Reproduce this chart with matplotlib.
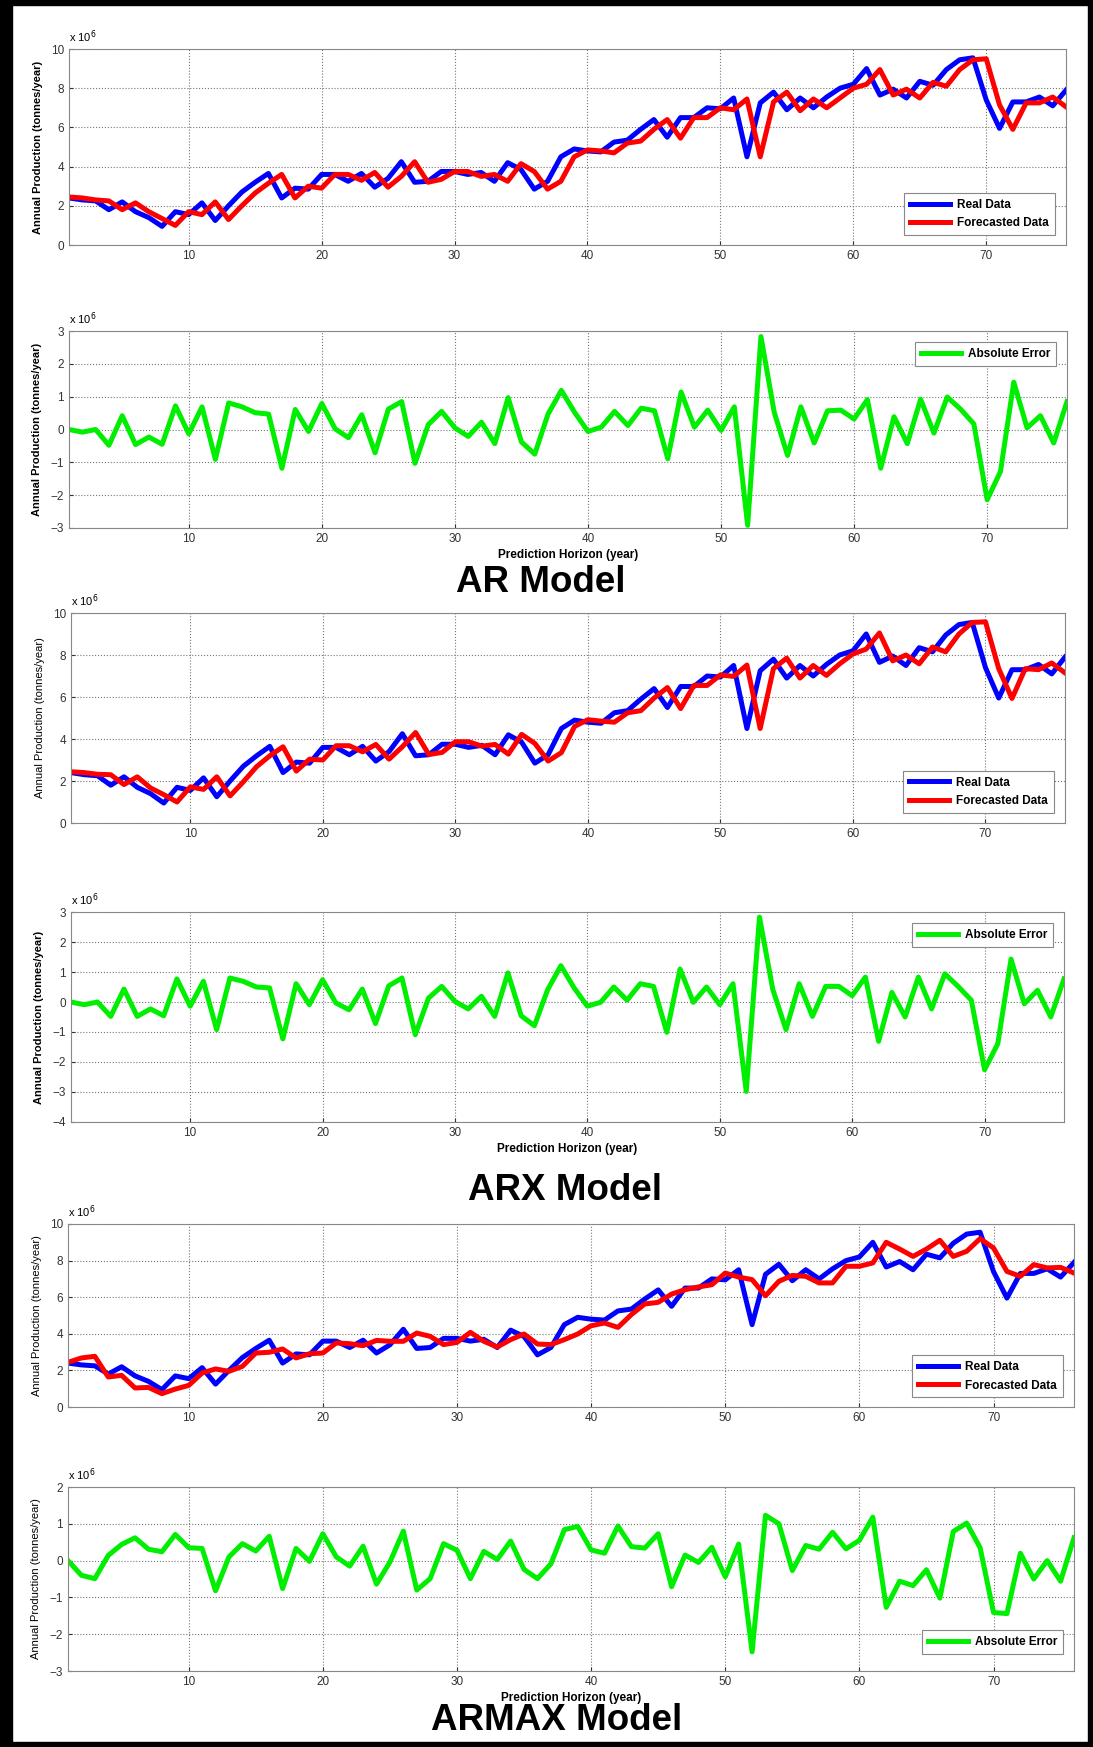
import numpy as np
import matplotlib
matplotlib.use("Agg")
import matplotlib.pyplot as plt
from matplotlib.patches import Rectangle

plt.rcParams['font.family'] = ['Liberation Sans', 'DejaVu Sans']

# horizon (year index)
years = np.arange(1, 77)

# annual production, x 10^6 tonnes/year
real = [2.4, 2.3, 2.25, 1.8, 2.2, 1.7, 1.4, 0.95, 1.7, 1.55,
        2.15, 1.25, 2.0, 2.7, 3.2, 3.65, 2.4, 2.9, 2.85, 3.6,
        3.6, 3.25, 3.65, 2.95, 3.4, 4.25, 3.2, 3.25, 3.75, 3.75,
        3.6, 3.7, 3.25, 4.2, 3.85, 2.85, 3.25, 4.5, 4.9, 4.8,
        4.75, 5.25, 5.35, 5.9, 6.4, 5.5, 6.5, 6.5, 7.0, 6.95,
        7.5, 4.5, 7.25, 7.8, 6.9, 7.5, 7.0, 7.55, 8.0, 8.2,
        9.0, 7.65, 7.95, 7.5, 8.35, 8.15, 8.95, 9.45, 9.55, 7.4,
        5.95, 7.3, 7.3, 7.55, 7.1, 7.9]

ar_fc = [2.45, 2.4, 2.3, 2.25, 1.8, 2.15, 1.7, 1.35, 1.0, 1.7,
         1.55, 2.2, 1.3, 2.0, 2.65, 3.15, 3.6, 2.4, 3.0, 2.9,
         3.6, 3.6, 3.3, 3.7, 2.95, 3.5, 4.25, 3.2, 3.35, 3.75,
         3.75, 3.5, 3.6, 3.25, 4.15, 3.75, 2.85, 3.25, 4.5, 4.85,
         4.8, 4.7, 5.2, 5.3, 5.9, 6.4, 5.45, 6.5, 6.5, 7.0,
         6.9, 7.45, 4.5, 7.3, 7.8, 6.85, 7.45, 7.0, 7.5, 8.0,
         8.2, 8.95, 7.65, 7.95, 7.5, 8.3, 8.1, 8.95, 9.45, 9.5,
         7.15, 5.9, 7.25, 7.25, 7.55, 7.05]

ar_err = [0.0, -0.08, 0.0, -0.48, 0.42, -0.46, -0.23, -0.45, 0.72, -0.13,
          0.69, -0.91, 0.81, 0.69, 0.51, 0.47, -1.18, 0.61, -0.06, 0.79,
          0.02, -0.25, 0.45, -0.71, 0.62, 0.85, -1.03, 0.15, 0.55, 0.05,
          -0.21, 0.22, -0.43, 0.97, -0.38, -0.75, 0.47, 1.19, 0.52, -0.06,
          0.07, 0.55, 0.12, 0.65, 0.57, -0.89, 1.14, 0.07, 0.59, -0.03,
          0.69, -2.92, 2.83, 0.52, -0.79, 0.69, -0.41, 0.57, 0.59, 0.32,
          0.91, -1.18, 0.39, -0.43, 0.92, -0.11, 0.99, 0.62, 0.17, -2.14,
          -1.28, 1.44, 0.05, 0.42, -0.41, 0.85]

arx_fc = [2.44, 2.4, 2.32, 2.3, 1.83, 2.2, 1.67, 1.35, 1.0, 1.72,
          1.6, 2.2, 1.29, 1.96, 2.68, 3.2, 3.63, 2.47, 3.04, 3.0,
          3.68, 3.68, 3.39, 3.74, 3.04, 3.63, 4.31, 3.26, 3.36, 3.87,
          3.87, 3.66, 3.74, 3.28, 4.22, 3.79, 2.95, 3.35, 4.6, 4.92,
          4.85, 4.8, 5.25, 5.35, 5.95, 6.45, 5.45, 6.55, 6.55, 7.05,
          6.98, 7.52, 4.5, 7.35, 7.85, 6.9, 7.5, 7.03, 7.58, 8.05,
          8.28, 9.05, 7.72, 8.0, 7.58, 8.38, 8.15, 9.0, 9.55, 9.58,
          7.35, 5.93, 7.35, 7.3, 7.62, 7.15]

arx_err = [0.0, -0.09, 0.0, -0.48, 0.43, -0.48, -0.23, -0.46, 0.77, -0.14,
           0.69, -0.92, 0.8, 0.69, 0.5, 0.47, -1.23, 0.61, -0.09, 0.74,
           -0.03, -0.26, 0.43, -0.72, 0.54, 0.8, -1.09, 0.13, 0.52, 0.02,
           -0.23, 0.19, -0.48, 0.97, -0.46, -0.79, 0.41, 1.21, 0.47, -0.14,
           -0.01, 0.5, 0.06, 0.61, 0.52, -1.01, 1.1, -0.01, 0.5, -0.09,
           0.61, -2.98, 2.83, 0.43, -0.92, 0.61, -0.48, 0.52, 0.52, 0.21,
           0.83, -1.31, 0.32, -0.5, 0.83, -0.23, 0.94, 0.52, 0.06, -2.26,
           -1.39, 1.43, -0.06, 0.39, -0.5, 0.77]

armax_fc = [2.44, 2.68, 2.77, 1.64, 1.73, 1.04, 1.07, 0.73, 0.98, 1.18,
            1.86, 2.08, 1.95, 2.22, 2.95, 2.99, 3.17, 2.68, 2.91, 2.95,
            3.5, 3.46, 3.35, 3.64, 3.59, 3.59, 4.04, 3.86, 3.41, 3.53,
            4.08, 3.59, 3.28, 3.68, 3.99, 3.44, 3.41, 3.68, 3.99, 4.44,
            4.59, 4.35, 5.05, 5.63, 5.72, 6.17, 6.41, 6.56, 6.68, 7.32,
            7.1, 6.96, 6.08, 6.87, 7.19, 7.14, 6.78, 6.78, 7.69, 7.69,
            7.87, 9.0, 8.63, 8.23, 8.63, 9.11, 8.23, 8.51, 9.2, 8.69,
            7.41, 7.14, 7.78, 7.6, 7.63, 7.32]

armax_err = [0.0, -0.4, -0.49, 0.14, 0.44, 0.62, 0.31, 0.24, 0.71, 0.35,
             0.33, -0.82, 0.1, 0.46, 0.26, 0.66, -0.76, 0.33, -0.02, 0.73,
             0.1, -0.15, 0.39, -0.64, -0.04, 0.8, -0.8, -0.49, 0.46, 0.28,
             -0.49, 0.25, 0.03, 0.53, -0.24, -0.49, -0.09, 0.84, 0.93, 0.29,
             0.2, 0.94, 0.38, 0.34, 0.73, -0.71, 0.15, -0.05, 0.36, -0.44,
             0.45, -2.48, 1.23, 1.0, -0.27, 0.41, 0.31, 0.77, 0.32, 0.55,
             1.18, -1.27, -0.56, -0.68, -0.25, -1.02, 0.79, 1.02, 0.35, -1.41,
             -1.44, 0.2, -0.5, 0.0, -0.56, 0.62]

model_names = ["AR Model", "ARX Model", "ARMAX Model"]

W, H = 1093, 1747
fig = plt.figure(figsize=(W / 100, H / 100), dpi=100)


def px_axes(l, r, t, b):
    return fig.add_axes([l / W, 1 - b / H, (r - l) / W, (b - t) / H])


def style(ax, ylim, yticks, bold_label=True):
    ax.set_xlim(1, 76)
    ax.set_ylim(*ylim)
    ax.set_xticks([10, 20, 30, 40, 50, 60, 70])
    ax.set_yticks(yticks)
    ax.grid(True, linestyle=':', color='#777777', linewidth=0.8)
    ax.tick_params(direction='in', labelsize=8.5, length=3, colors='#333333')
    for s in ax.spines.values():
        s.set_color('#888888')
    ax.set_ylabel("Annual Production (tonnes/year)", fontsize=8,
                  fontweight='bold' if bold_label else 'normal', labelpad=6)
    ax.text(0.0, 1.02, r"x 10$^6$", transform=ax.transAxes, fontsize=8,
            ha='left', va='bottom')


def legend(ax, loc, anchor):
    leg = ax.legend(loc=loc, bbox_to_anchor=anchor, fancybox=False,
                    edgecolor='#888888', framealpha=1, handlelength=3.4,
                    prop={'weight': 'bold', 'size': 8.5}, borderpad=0.5,
                    labelspacing=0.55, handletextpad=0.6)
    leg.get_frame().set_linewidth(0.8)


lw = 3.6
green = '#00ee00'

# layout in pixels: (left, right, top, bottom)
top_boxes = [(69, 1066, 49, 245), (71, 1065, 613, 823), (68, 1074, 1224, 1407)]
err_boxes = [(69, 1067, 331, 528), (71, 1064, 912, 1122), (68, 1074, 1487, 1671)]
forecasts = [ar_fc, arx_fc, armax_fc]
errors = [ar_err, arx_err, armax_err]
err_lims = [(-3, 3), (-4, 3), (-3, 2)]
title_y = [583, 1190, 1720]
title_x = [541, 565, 557]
leg_top = [(0.995, 0.02), (0.995, 0.02), (0.995, 0.02)]
leg_err = [((0.995, 0.975), 'upper right'), ((0.995, 0.975), 'upper right'),
           ((0.995, 0.06), 'lower right')]

for i in range(3):
    ax = px_axes(*top_boxes[i])
    ax.plot(years, real, color='#0000ff', lw=lw, label='Real Data')
    ax.plot(years, forecasts[i], color='#ff0000', lw=lw, label='Forecasted Data')
    style(ax, (0, 10), [0, 2, 4, 6, 8, 10], bold_label=(i == 0))
    legend(ax, 'lower right', leg_top[i])

    ax2 = px_axes(*err_boxes[i])
    ax2.plot(years, errors[i], color=green, lw=lw, label='Absolute Error')
    lo, hi = err_lims[i]
    style(ax2, (lo, hi), list(range(lo, hi + 1)), bold_label=(i < 2))
    legend(ax2, leg_err[i][1], leg_err[i][0])
    ax2.set_xlabel("Prediction Horizon (year)", fontsize=8.5, fontweight='bold',
                   labelpad=3)

    fig.text(title_x[i] / W, 1 - title_y[i] / H, model_names[i],
             fontsize=26.5, fontweight='bold', ha='center', va='center')

# black frame around the figure
frame = [(0, 0, 12, H), (W - 5, 0, 5, H), (0, 0, W, 5), (0, H - 5, W, 5)]
for x0, y0, w, h in frame:
    fig.patches.append(Rectangle((x0 / W, 1 - (y0 + h) / H), w / W, h / H,
                                 transform=fig.transFigure, color='black',
                                 zorder=10))

fig.savefig("out.png", dpi=100)
